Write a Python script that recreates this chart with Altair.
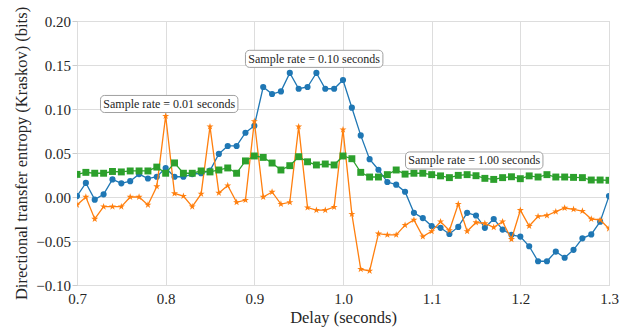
import altair as alt
import pandas as pd

# Delay values (seconds)
delays = [0.70, 0.71, 0.72, 0.73, 0.74, 0.75, 0.76, 0.77, 0.78, 0.79,
          0.80, 0.81, 0.82, 0.83, 0.84, 0.85, 0.86, 0.87, 0.88, 0.89,
          0.90, 0.91, 0.92, 0.93, 0.94, 0.95, 0.96, 0.97, 0.98, 0.99,
          1.00, 1.01, 1.02, 1.03, 1.04, 1.05, 1.06, 1.07, 1.08, 1.09,
          1.10, 1.11, 1.12, 1.13, 1.14, 1.15, 1.16, 1.17, 1.18, 1.19,
          1.20, 1.21, 1.22, 1.23, 1.24, 1.25, 1.26, 1.27, 1.28, 1.29,
          1.30]

# Transfer entropy at 0.10 s sample rate
te_010 = [0.001, 0.016, -0.003, 0.003, 0.020, 0.0155, 0.018, 0.026, 0.021, 0.023,
          0.033, 0.023, 0.023, 0.026, 0.027, 0.030, 0.049, 0.058, 0.058, 0.073,
          0.081, 0.125, 0.117, 0.120, 0.141, 0.123, 0.125, 0.141, 0.123, 0.123,
          0.133, 0.1015, 0.070, 0.043, 0.031, 0.017, 0.014, 0.006, -0.018, -0.024,
          -0.033, -0.035, -0.042, -0.034, -0.018, -0.021, -0.035, -0.025, -0.037, -0.043,
          -0.045, -0.056, -0.073, -0.073, -0.062, -0.069, -0.060, -0.047, -0.0425, -0.028,
          0.001]

# Transfer entropy at 0.01 s sample rate
te_001 = [-0.009, 0.000, -0.025, -0.011, -0.011, -0.011, 0.000, 0.000, -0.009, 0.012,
          0.092, 0.004, 0.001, -0.011, 0.0035, 0.080, 0.0046, 0.013, -0.006, -0.0035,
          0.086, 0.000, 0.0057, -0.008, -0.006, 0.080, -0.012, -0.015, -0.015, -0.0114,
          0.0765, -0.0194, -0.082, -0.084, -0.0417, -0.043, -0.043, -0.032, -0.026, -0.045,
          -0.039, -0.028, -0.038, -0.008, -0.039, -0.029, -0.030, -0.0345, -0.028, -0.048,
          -0.015, -0.033, -0.022, -0.021, -0.0167, -0.0125, -0.014, -0.016, -0.025, -0.026,
          -0.036]

# Transfer entropy at 1.00 s sample rate
te_100 = [0.0257, 0.028, 0.027, 0.027, 0.029, 0.0285, 0.0296, 0.0296, 0.0296, 0.034,
          0.027, 0.0387, 0.027, 0.027, 0.0296, 0.0285, 0.0307, 0.033, 0.027, 0.041,
          0.0466, 0.045, 0.0386, 0.0307, 0.0356, 0.0458, 0.040, 0.0364, 0.0375, 0.0364,
          0.0466, 0.0435, 0.028, 0.0227, 0.0227, 0.0254, 0.0307, 0.026, 0.027, 0.027,
          0.0254, 0.024, 0.022, 0.0246, 0.0254, 0.0242, 0.0212, 0.020, 0.022, 0.023,
          0.0208, 0.024, 0.0227, 0.0254, 0.0227, 0.0227, 0.0223, 0.022, 0.0193, 0.0193,
          0.019]

# Annotation labels and their anchor points (data coordinates)
note_labels = ["Sample rate = 0.01 seconds", "Sample rate = 0.10 seconds",
               "Sample rate = 1.00 seconds"]
note_x = [0.804, 0.9675, 1.148]
note_y = [0.1057, 0.157, 0.0415]

FONT = "Liberation Serif"
TEXT = "#262626"
BOX_HALF_W = 0.0775
BOX_HALF_H = 0.0097

STAR = ("M0,-1L0.2245,-0.309L0.951,-0.309L0.363,0.118L0.588,0.809L0,0.382"
        "L-0.588,0.809L-0.363,0.118L-0.951,-0.309L-0.2245,-0.309Z")

x_scale = alt.Scale(domain=[0.7, 1.3], nice=False, zero=False)
y_scale = alt.Scale(domain=[-0.10, 0.20], nice=False, zero=False)

# typographic minus sign for negative tick labels
MINUS = "replace(format(datum.value, '{}'), '-', '\u2212')"

axis_style = dict(labelFont=FONT, titleFont=FONT, labelFontSize=15, titleFontSize=16.5,
                  labelColor=TEXT, titleColor=TEXT, titleFontWeight="normal",
                  labelFlush=False, domain=False, grid=True,
                  gridColor="#dddddd", gridWidth=1)

x_axis = alt.Axis(title="Delay (seconds)", values=[0.7, 0.8, 0.9, 1.0, 1.1, 1.2, 1.3],
                  labelExpr=MINUS.format(".1f"), labelPadding=6, titlePadding=3,
                  ticks=False, **axis_style)
y_axis = alt.Axis(title="Directional transfer entropy (Kraskov) (bits)",
                  values=[-0.10, -0.05, 0.0, 0.05, 0.10, 0.15, 0.20],
                  labelExpr=MINUS.format(".2f"), labelPadding=1.5, titlePadding=6,
                  ticks=True, tickSize=5, tickColor="#cccccc", **axis_style)


def series(values, color, shape, size):
    df = pd.DataFrame({"delay": delays, "te": values})
    base = alt.Chart(df).encode(
        x=alt.X("delay:Q", scale=x_scale, axis=x_axis),
        y=alt.Y("te:Q", scale=y_scale, axis=y_axis),
    )
    line = base.mark_line(color=color, strokeWidth=1.3, clip=True)
    pts = base.mark_point(color=color, fill=color, filled=True, opacity=1,
                          shape=shape, size=size, clip=True)
    return line + pts


blue = series(te_010, "#1f77b4", "circle", 38)
orange = series(te_001, "#ff7f0e", STAR, 55)
green = series(te_100, "#2ca02c", "square", 48)

notes = pd.DataFrame({"label": note_labels, "x": note_x, "y": note_y})
notes["x0"] = notes["x"] - BOX_HALF_W
notes["x1"] = notes["x"] + BOX_HALF_W
notes["y0"] = notes["y"] - BOX_HALF_H
notes["y1"] = notes["y"] + BOX_HALF_H

boxes = alt.Chart(notes).mark_rect(
    fill="white", stroke="#a0a0a0", strokeWidth=1, cornerRadius=4
).encode(
    x=alt.X("x0:Q", scale=x_scale), x2="x1:Q",
    y=alt.Y("y0:Q", scale=y_scale), y2="y1:Q",
)
texts = alt.Chart(notes).mark_text(
    font=FONT, fontSize=12, color=TEXT, align="center", baseline="middle"
).encode(
    x=alt.X("x:Q", scale=x_scale),
    y=alt.Y("y:Q", scale=y_scale),
    text="label:N",
)

chart = alt.layer(blue, orange, green, boxes, texts).properties(
    width=532, height=264,
    background="white",
    autosize=alt.AutoSizeParams(type="none"),
    padding={"left": 77, "top": 21, "right": 25, "bottom": 44},
).configure_view(
    stroke="#cccccc", strokeWidth=1
)

chart.save("out.html", embed_options={"renderer": "svg", "actions": False})
